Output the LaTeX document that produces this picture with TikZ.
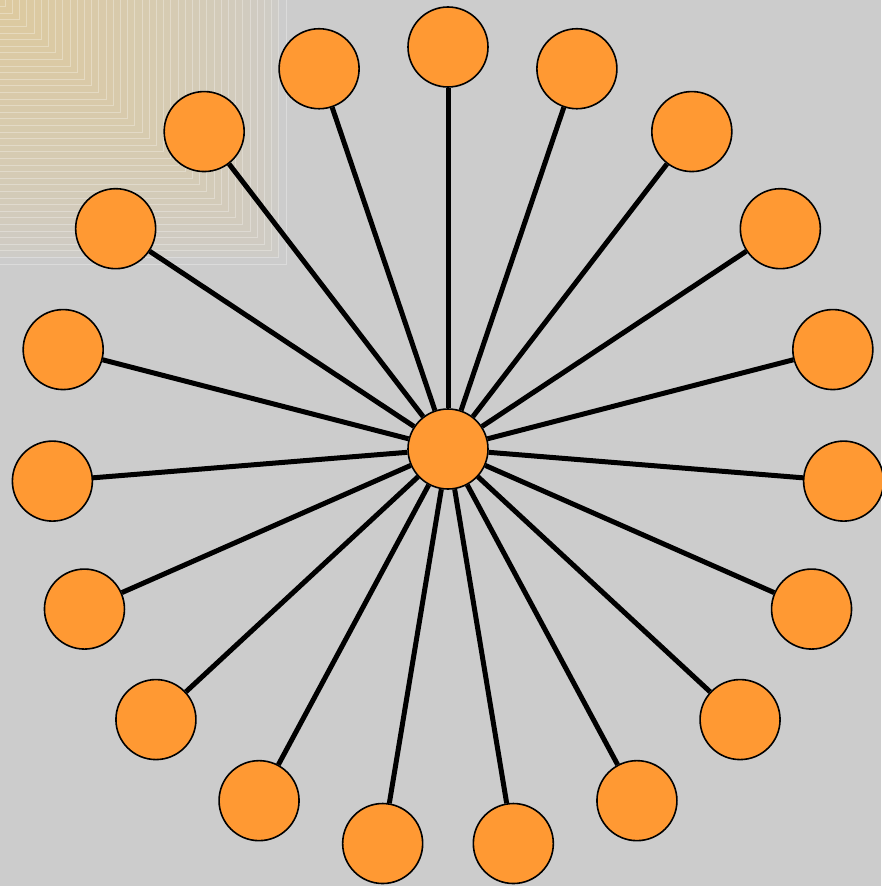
\documentclass[tikz,border=0pt]{standalone}
\usepackage{tikz}

\definecolor{bggray}{HTML}{CCCCCC}
\definecolor{sand}{HTML}{DDCA9F}
\definecolor{ballorange}{HTML}{FF9933}

\tikzset{
  ball/.style={circle, draw=black, line width=1.6pt, fill=ballorange,
    minimum size=80pt, inner sep=0pt},
  spoke/.style={line width=5pt, black}
}

\begin{document}
\begin{tikzpicture}[x=1pt, y=-1pt]
  % Background and the shaded corner
  \fill[bggray] (0,0) rectangle (881,886);
  \useasboundingbox (0,0) rectangle (881,886);
  \foreach \k in {0,...,39} {
    \pgfmathsetmacro{\p}{100*(\k/39)^0.6}
    \fill[sand!\p!bggray] (0,0) rectangle ({286-7.2*\k}, {264-6.6*\k});
    \draw[white, opacity=0.3, line width=0.7pt] (0,{264-6.6*\k}) -| ({286-7.2*\k},0);
  }

  % Hub in the middle
  \node[ball] (hub) at (448,449) {};

  % Ring of 19 outer nodes
  \begin{scope}[shift={(448,448)}, x=397pt, y=-401pt]
    \foreach \i in {0,...,18} {
      \node[ball] (o\i) at ({cos(-90+\i*360/19)}, {sin(-90+\i*360/19)}) {};
    }
  \end{scope}

  % Spokes
  \foreach \i in {0,...,18} {
    \draw[spoke] (hub) -- (o\i);
  }
\end{tikzpicture}
\end{document}
